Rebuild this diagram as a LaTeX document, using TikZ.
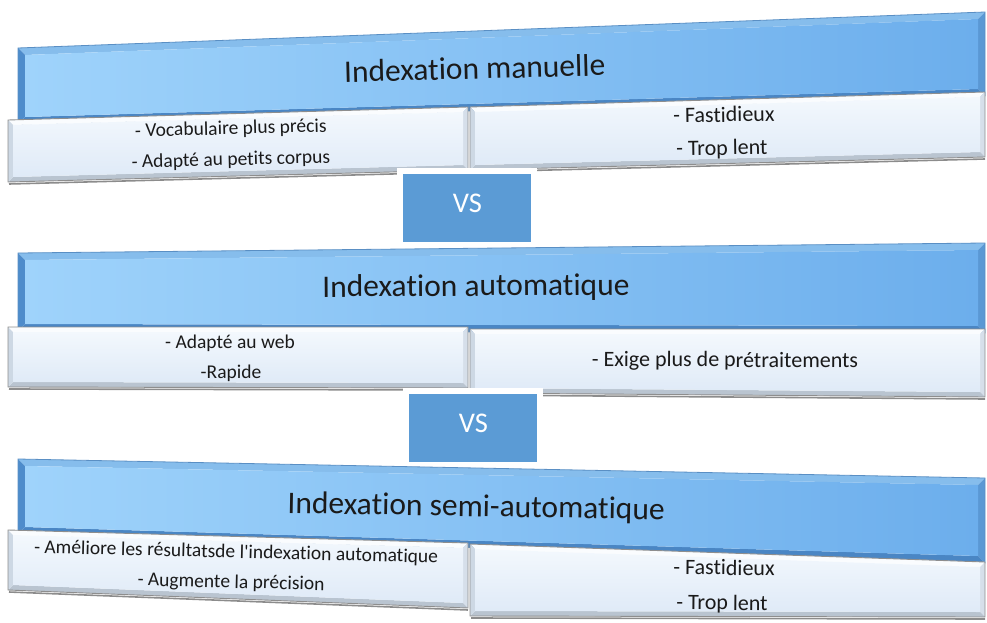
\documentclass[tikz,border=0pt]{standalone}
\usepackage{fontspec}
\setmainfont{Carlito}[Ligatures=NoCommon]
\usetikzlibrary{calc}

% header bevel colours
\definecolor{hdrTop}{HTML}{86BDEC}
\definecolor{hdrRight}{HTML}{5A98D4}
\definecolor{hdrBottom}{HTML}{4A86C4}
\definecolor{hdrLeft}{HTML}{4E8CCB}
\definecolor{hdrInA}{HTML}{9FD3FB}
\definecolor{hdrInB}{HTML}{6CAEEC}
\definecolor{hdrEdge}{HTML}{5A8FC4}
% light box bevel colours
\definecolor{boxTop}{HTML}{FAFCFE}
\definecolor{boxRight}{HTML}{D6DFEA}
\definecolor{boxBottom}{HTML}{B9C4D0}
\definecolor{boxLeft}{HTML}{CDD8E4}
\definecolor{boxInA}{HTML}{F3F8FD}
\definecolor{boxInB}{HTML}{DFEAF7}
\definecolor{boxEdge}{HTML}{8E8E8E}
\definecolor{vsblue}{HTML}{5B9BD5}
\definecolor{ink}{HTML}{1A1A1A}

\tikzset{
  hdrT/.style={fill=hdrTop}, hdrR/.style={fill=hdrRight},
  hdrB/.style={fill=hdrBottom}, hdrL/.style={fill=hdrLeft},
  hdrIn/.style={left color=hdrInA, right color=hdrInB},
  hdrE/.style={draw=hdrEdge, line width=0.8pt},
  boxT/.style={fill=boxTop}, boxR/.style={fill=boxRight},
  boxB/.style={fill=boxBottom}, boxL/.style={fill=boxLeft},
  boxIn/.style={top color=boxInA, bottom color=boxInB},
  boxE/.style={draw=boxEdge, line width=0.9pt},
  boxshadow/.style={draw=black!45, line width=1.6pt},
  headtext/.style={font=\fontsize{31.5}{36}\selectfont, text=ink, inner sep=0pt, anchor=base},
  lefttext/.style={font=\fontsize{19.5}{23}\selectfont, text=ink, inner sep=0pt, anchor=base},
  righttext/.style={font=\fontsize{22}{26}\selectfont, text=ink, inner sep=0pt, anchor=base},
  vsbox/.style={fill=vsblue, draw=white, line width=6pt, minimum width=134pt,
    minimum height=74pt, inner sep=0pt, outer sep=0pt},
  vstext/.style={font=\fontsize{28.5}{32}\selectfont, text=white, inner sep=0pt, anchor=base},
}

% bevelled quadrilateral: corners TL TR BR BL, band width, style prefix
\newcommand\bevelquad[6]{%
  \coordinate (q1) at ($(#1)+(#5,#5)$);
  \coordinate (q2) at ($(#2)+(-#5,#5)$);
  \coordinate (q3) at ($(#3)+(-#5,-#5)$);
  \coordinate (q4) at ($(#4)+(#5,-#5)$);
  \fill[#6T] (#1) -- (#2) -- (q2) -- (q1) -- cycle;
  \fill[#6R] (#2) -- (#3) -- (q3) -- (q2) -- cycle;
  \fill[#6B] (#3) -- (#4) -- (q4) -- (q3) -- cycle;
  \fill[#6L] (#4) -- (#1) -- (q1) -- (q4) -- cycle;
  \shade[#6In] (q1) -- (q2) -- (q3) -- (q4) -- cycle;
  \draw[#6E] (#1) -- (#2) -- (#3) -- (#4) -- cycle;
}
% light box with a soft shadow under its lower edge
\newcommand\lightbox[4]{%
  \draw[boxshadow] ($(#4)+(1,2)$) -- ($(#3)+(0,2)$);
  \bevelquad{#1}{#2}{#3}{#4}{5}{box}
}

\begin{document}
\begin{tikzpicture}[x=1pt,y=-1pt]
\useasboundingbox (0,0) rectangle (987,623);

% ---------- Indexation manuelle ----------
\coordinate (h1a) at (18,48);  \coordinate (h1b) at (985,12);
\coordinate (h1c) at (985,96); \coordinate (h1d) at (18,124);
\bevelquad{h1a}{h1b}{h1c}{h1d}{7}{hdr}
\node[headtext, rotate=1.5] (t1) at (475,79) {Indexation manuelle};

\coordinate (l1a) at (8,120);   \coordinate (l1b) at (468,107);
\coordinate (l1c) at (468,170); \coordinate (l1d) at (8,182);
\lightbox{l1a}{l1b}{l1c}{l1d}
\coordinate (r1a) at (470,107); \coordinate (r1b) at (985,92);
\coordinate (r1c) at (985,157); \coordinate (r1d) at (470,170);
\lightbox{r1a}{r1b}{r1c}{r1d}
\node[lefttext, rotate=1.5] (p1a) at (231,134.5) {- Vocabulaire plus précis};
\node[lefttext, rotate=1.5] (p1b) at (231,165.5) {- Adapté au petits corpus};
\node[righttext, rotate=0.8] (c1a) at (724,122) {- Fastidieux};
\node[righttext, rotate=0.8] (c1b) at (722,155) {- Trop lent};

\node[vsbox] (vs1) at (467,208) {};
\node[vstext] (vs1t) at (467.5,212) {VS};

% ---------- Indexation automatique ----------
\coordinate (h2a) at (18,253);  \coordinate (h2b) at (985,243);
\coordinate (h2c) at (985,333); \coordinate (h2d) at (18,331);
\bevelquad{h2a}{h2b}{h2c}{h2d}{7}{hdr}
\node[headtext, rotate=0.4] (t2) at (476,296) {Indexation automatique};

\coordinate (l2a) at (8,327);   \coordinate (l2b) at (468,327);
\coordinate (l2c) at (468,388); \coordinate (l2d) at (8,387);
\lightbox{l2a}{l2b}{l2c}{l2d}
\coordinate (r2a) at (470,329); \coordinate (r2b) at (985,329);
\coordinate (r2c) at (985,397); \coordinate (r2d) at (470,393);
\lightbox{r2a}{r2b}{r2c}{r2d}
\node[lefttext] (p2a) at (230,348) {- Adapté au web};
\node[lefttext] (p2b) at (231,378) {-Rapide};
\node[righttext, rotate=-0.3] (c2a) at (725,367) {- Exige plus de prétraitements};

\node[vsbox] (vs2) at (473,428) {};
\node[vstext] (vs2t) at (473.5,432) {VS};

% ---------- Indexation semi-automatique ----------
\coordinate (h3a) at (18,459);  \coordinate (h3b) at (985,478);
\coordinate (h3c) at (985,563); \coordinate (h3d) at (18,534);
\bevelquad{h3a}{h3b}{h3c}{h3d}{7}{hdr}
\node[headtext, rotate=-1.0] (t3) at (476,516.5) {Indexation semi-automatique};

\coordinate (l3a) at (8,530);   \coordinate (l3b) at (468,543);
\coordinate (l3c) at (468,608); \coordinate (l3d) at (8,590);
\lightbox{l3a}{l3b}{l3c}{l3d}
\coordinate (r3a) at (470,544); \coordinate (r3b) at (985,562);
\coordinate (r3c) at (985,617); \coordinate (r3d) at (470,616);
\lightbox{r3a}{r3b}{r3c}{r3d}
\node[lefttext, rotate=-1.4] (p3a) at (236,558) {- Améliore les résultatsde l\textquotesingle indexation automatique};
\node[lefttext, rotate=-1.4] (p3b) at (231,588) {- Augmente la précision};
\node[righttext, rotate=-0.5] (c3a) at (724,575) {- Fastidieux};
\node[righttext, rotate=-0.5] (c3b) at (722,610) {- Trop lent};
\end{tikzpicture}
\end{document}
